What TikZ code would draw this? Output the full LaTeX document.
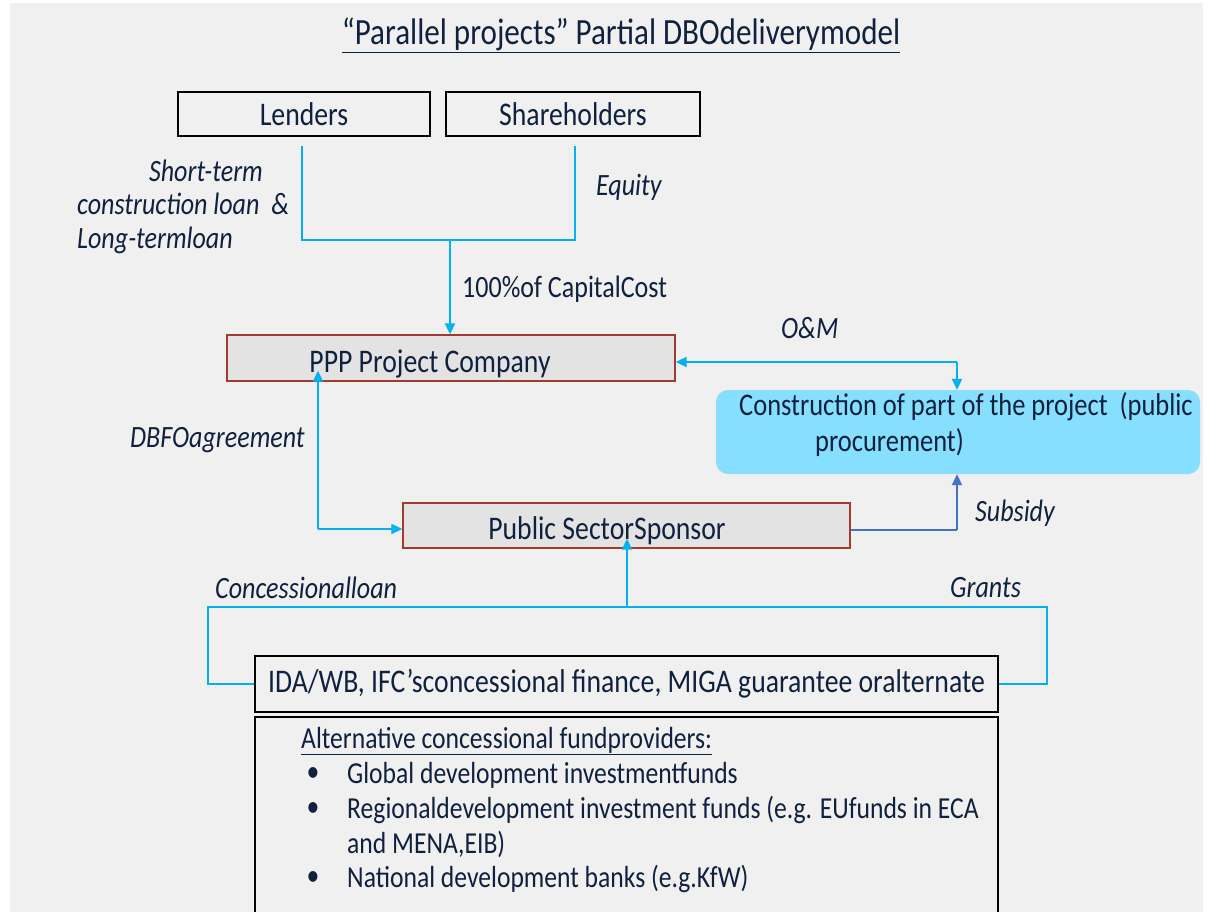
\documentclass[tikz,border=0pt]{standalone}
\usepackage{fontspec}
\setmainfont{Carlito}[FakeStretch=0.84]
\usetikzlibrary{arrows.meta}
\definecolor{bg}{HTML}{F0F0F0}
\definecolor{txt}{HTML}{10213F}
\definecolor{cy}{HTML}{00B0F0}
\definecolor{dblue}{HTML}{4472C4}
\definecolor{boxgray}{HTML}{E3E3E3}
\definecolor{boxred}{HTML}{A33A30}
\definecolor{lightcy}{HTML}{86DFFF}
\tikzset{
  big/.style={font=\fontsize{33}{39}\selectfont},
  lab/.style={font=\fontsize{31}{37}\selectfont\itshape, text=txt, inner sep=0pt},
  lst/.style={font=\fontsize{30.5}{36}\selectfont, text=txt, inner sep=0pt},
  blackbox/.style={draw=black, line width=2pt, text=txt, big, inner sep=0pt},
  graybox/.style={draw=boxred, line width=1.4pt, fill=boxgray, text=txt, big, inner sep=0pt},
  conn/.style={draw=cy, line width=2pt},
  tip/.style={-{Triangle[width=10pt,length=11pt]}},
}
\begin{document}
\begin{tikzpicture}[x=1pt,y=-1pt]
\useasboundingbox (0,0) rectangle (1220,912);
\fill[white] (0,0) rectangle (1220,912);
\fill[bg] (10,3) rectangle (1203,912);

% title
\node[text=txt, font=\fontsize{37}{43}\selectfont, inner sep=0pt] (title) at (621,35) {\underline{“Parallel projects” Partial DBOdeliverymodel}};

% boxes
\node[blackbox, minimum width=252pt, minimum height=44pt] (lenders) at (304,114) {\raisebox{-6pt}{Lenders}};
\node[blackbox, minimum width=254pt, minimum height=44pt] (share) at (573,114) {\raisebox{-6pt}{Shareholders}};
\node[graybox, minimum width=448pt, minimum height=46pt] (ppp) at (451,358) {};
\node[text=txt, big, inner sep=0pt] (ppptext) at (430,364) {PPP Project Company};
\node[fill=lightcy, rounded corners=12pt, minimum width=484pt, minimum height=84pt, inner sep=0pt] (constr) at (958,432) {};
\node[text=txt, font=\fontsize{31.5}{38}\selectfont, inner sep=0pt, align=left, anchor=north west] (constrtext) at (739,392) {Construction of part of the project \ (public\\[-2pt]\hspace*{76pt}procurement)};
\node[graybox, minimum width=447pt, minimum height=45pt] (sponsor) at (626.5,525.5) {};
\node[text=txt, big, inner sep=0pt] (sponsortext) at (607,531) {Public SectorSponsor};
\node[blackbox, minimum width=743pt, minimum height=56pt] (ida) at (626.5,684) {IDA/WB, IFC’sconcessional finance, MIGA guarantee oralternate};
\draw[black, line width=2pt] (255,915) -- (255,716.5) -- (998,716.5) -- (998,915);

% list
\node[lst, anchor=west] (alt) at (301,741) {\underline{Alternative concessional fundproviders:}};
\node[lst] (b1) at (313,775) {•};
\node[lst, anchor=west] (l1) at (347,775) {Global development investmentfunds};
\node[lst] (b2) at (313,810) {•};
\node[lst, anchor=west] (l2) at (347,810) {Regionaldevelopment investment funds (e.g. EUfunds in ECA};
\node[lst, anchor=west] (l2b) at (347,844) {and MENA,EIB)};
\node[lst] (b3) at (313,879) {•};
\node[lst, anchor=west] (l3) at (347,879) {National development banks (e.g.KfW)};

% labels
\node[lab, anchor=east] (st) at (263,171) {Short-term};
\node[lab, anchor=west] (cl) at (77,204) {construction loan \ \&};
\node[lab, anchor=west] (lt) at (77,240) {Long-termloan};
\node[lab, anchor=west] (eq) at (596,187) {Equity};
\node[lab, anchor=west, font=\fontsize{31}{37}\selectfont] (cap) at (462,289) {100\%of CapitalCost};
\node[lab, anchor=west] (om) at (781,328) {O\&M};
\node[lab, anchor=west] (dbfo) at (130,440) {DBFOagreement};
\node[lab, anchor=west] (sub) at (975,513) {Subsidy};
\node[lab, anchor=west] (conl) at (215,588) {Concessionalloan};
\node[lab, anchor=west] (gr) at (950,588) {Grants};

% connectors
\coordinate (lj) at (302,146);
\coordinate (sj) at (575,146);
\coordinate (jn) at (450,240);
\draw[conn] (lj) |- (jn) -| (sj);
\draw[conn, tip] (jn) -- (jn |- ppp.north);

\coordinate (omc) at (957,362);
\draw[conn, tip] (omc) -- (ppp.east |- omc);
\draw[conn, tip] (omc) -- (omc |- constr.north);

\coordinate (dbc) at (318,529);
\draw[conn, tip] (dbc) -- (sponsor.west |- dbc);
\draw[conn, tip] (dbc) -- ([yshift=11pt]ppp.south -| dbc);

\coordinate (subc) at (957,530);
\draw[draw=dblue, line width=2pt] (sponsor.east |- subc) -- (subc);
\draw[draw=dblue, line width=2pt, -{Triangle[width=10pt,length=11pt]}] (subc) -- (subc |- constr.south);

\coordinate (cl1) at (208,607);
\coordinate (cr1) at (1047,607);
\coordinate (cm) at (627,607);
\draw[conn] (ida.west) -| (cl1) -- (cr1) |- (ida.east);
\draw[conn, tip] (cm) -- ([yshift=10pt]sponsor.south -| cm);
\end{tikzpicture}
\end{document}
